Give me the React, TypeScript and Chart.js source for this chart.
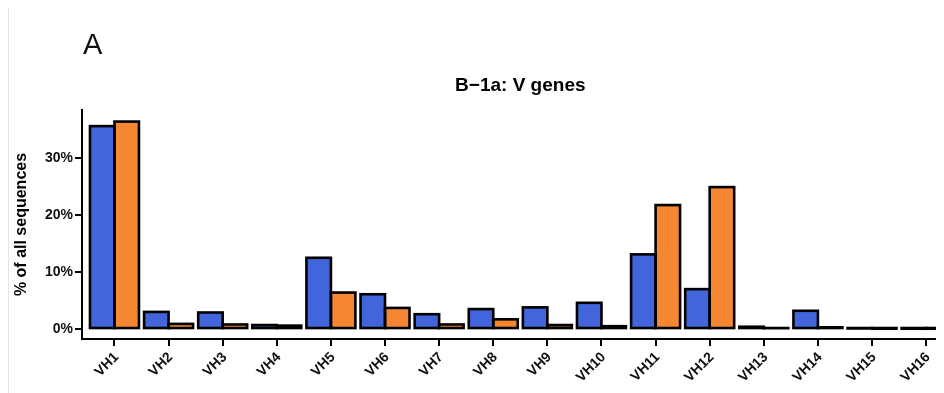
import React, { useEffect, useRef } from 'react';
import { Chart, registerables } from 'chart.js';

Chart.register(...registerables);

const categories = ['VH1', 'VH2', 'VH3', 'VH4', 'VH5', 'VH6', 'VH7', 'VH8', 'VH9', 'VH10', 'VH11', 'VH12', 'VH13', 'VH14', 'VH15', 'VH16'];
const seriesBlue = [35.6, 3.0, 2.9, 0.7, 12.5, 6.1, 2.6, 3.5, 3.8, 4.6, 13.1, 7.0, 0.4, 3.2, 0.1, 0.05];
const seriesOrange = [36.4, 0.9, 0.8, 0.6, 6.4, 3.7, 0.8, 1.7, 0.7, 0.5, 21.75, 24.9, 0.15, 0.3, 0.05, 0.05];
const yTicks = [0, 10, 20, 30];
const titleText = 'B\u22121a: V genes';
const yTitle = '% of all sequences';
const panelLabel = 'A';

const FONT = "'Liberation Sans', Arial, Helvetica, sans-serif";
const BLUE = '#4365DB';
const ORANGE = '#F68732';

const outlinePlugin = {
  id: 'barOutline',
  afterDatasetsDraw(chart: any) {
    const ctx = chart.ctx;
    ctx.save();
    ctx.lineWidth = 2.6;
    ctx.strokeStyle = '#000';
    ctx.lineJoin = 'miter';
    chart.data.datasets.forEach((_: any, di: number) => {
      const meta = chart.getDatasetMeta(di);
      meta.data.forEach((el: any) => {
        const { x, y, base, width } = el.getProps(['x', 'y', 'base', 'width'], true);
        ctx.strokeRect(x - width / 2, y, width, base - y);
      });
    });
    ctx.restore();
  },
};

export default function App() {
  const ref = useRef<HTMLCanvasElement | null>(null);

  useEffect(() => {
    if (!ref.current) return;
    const chart = new Chart(ref.current, {
      type: 'bar',
      data: {
        datasets: [
          {
            label: 'blue',
            data: seriesBlue.map((v, i) => ({ x: i, y: v })),
            backgroundColor: BLUE,
            borderWidth: 0,
            categoryPercentage: 0.905,
            barPercentage: 1,
          },
          {
            label: 'orange',
            data: seriesOrange.map((v, i) => ({ x: i, y: v })),
            backgroundColor: ORANGE,
            borderWidth: 0,
            categoryPercentage: 0.905,
            barPercentage: 1,
          },
        ],
      },
      options: {
        responsive: false,
        animation: false,
        devicePixelRatio: 1,
        layout: { padding: { left: 0, right: 9.4, top: 0, bottom: 0 } },
        plugins: {
          legend: { display: false },
          tooltip: { enabled: false },
          title: {
            display: true,
            text: titleText,
            fullSize: false,
            color: '#000',
            font: { family: FONT, size: 19, weight: 'bold' },
            padding: { top: 66.6, bottom: 12.6 },
          },
        },
        scales: {
          x: {
            type: 'linear',
            min: -0.6,
            max: 15.6,
            offset: false,
            afterBuildTicks: (scale: any) => {
              scale.ticks = categories.map((_, i) => ({ value: i }));
            },
            afterFit: (scale: any) => {
              scale.height = 54;
              scale.paddingLeft = 0;
              scale.paddingRight = 0;
            },
            ticks: {
              autoSkip: false,
              maxRotation: 45,
              minRotation: 45,
              padding: 3,
              labelOffset: 2,
              color: '#111',
              font: { family: FONT, size: 14, weight: 'bold' },
              callback: (v: any) => categories[v] ?? '',
            },
            grid: {
              display: true,
              offset: false,
              drawOnChartArea: false,
              drawTicks: true,
              tickLength: 7,
              color: '#000',
              lineWidth: 2,
            },
            border: { display: true, color: '#000', width: 2 },
          },
          y: {
            type: 'linear',
            min: -1.75,
            max: 38.43,
            afterBuildTicks: (scale: any) => {
              scale.ticks = yTicks.map((v) => ({ value: v }));
            },
            afterFit: (scale: any) => {
              scale.width = 74;
            },
            ticks: {
              padding: 2,
              color: '#111',
              font: { family: FONT, size: 14, weight: 'bold' },
              callback: (v: any) => v + '%',
            },
            grid: {
              display: true,
              drawOnChartArea: false,
              drawTicks: true,
              tickLength: 7,
              color: '#000',
              lineWidth: 2,
            },
            border: { display: true, color: '#000', width: 2 },
            title: {
              display: true,
              text: yTitle,
              color: '#000',
              font: { family: FONT, size: 16, weight: 'bold' },
              padding: { top: 4.4, bottom: 0 },
            },
          },
        },
      },
      plugins: [outlinePlugin],
    } as any);
    return () => chart.destroy();
  }, []);

  return (
    <div style={{ position: 'relative', width: 936, height: 385, overflow: 'hidden', background: '#fff' }}>
      <canvas ref={ref} width={960} height={385} style={{ position: 'absolute', left: 0, top: 0, width: 960, height: 385 }} />
      <div style={{ position: 'absolute', left: 0, top: 0, width: 1, height: 385, background: '#e4e4e4' }} />
      <div
        style={{
          position: 'absolute',
          left: 75,
          top: 22,
          fontFamily: FONT,
          fontSize: 29,
          lineHeight: '29px',
          color: '#111',
        }}
      >
        {panelLabel}
      </div>
    </div>
  );
}
